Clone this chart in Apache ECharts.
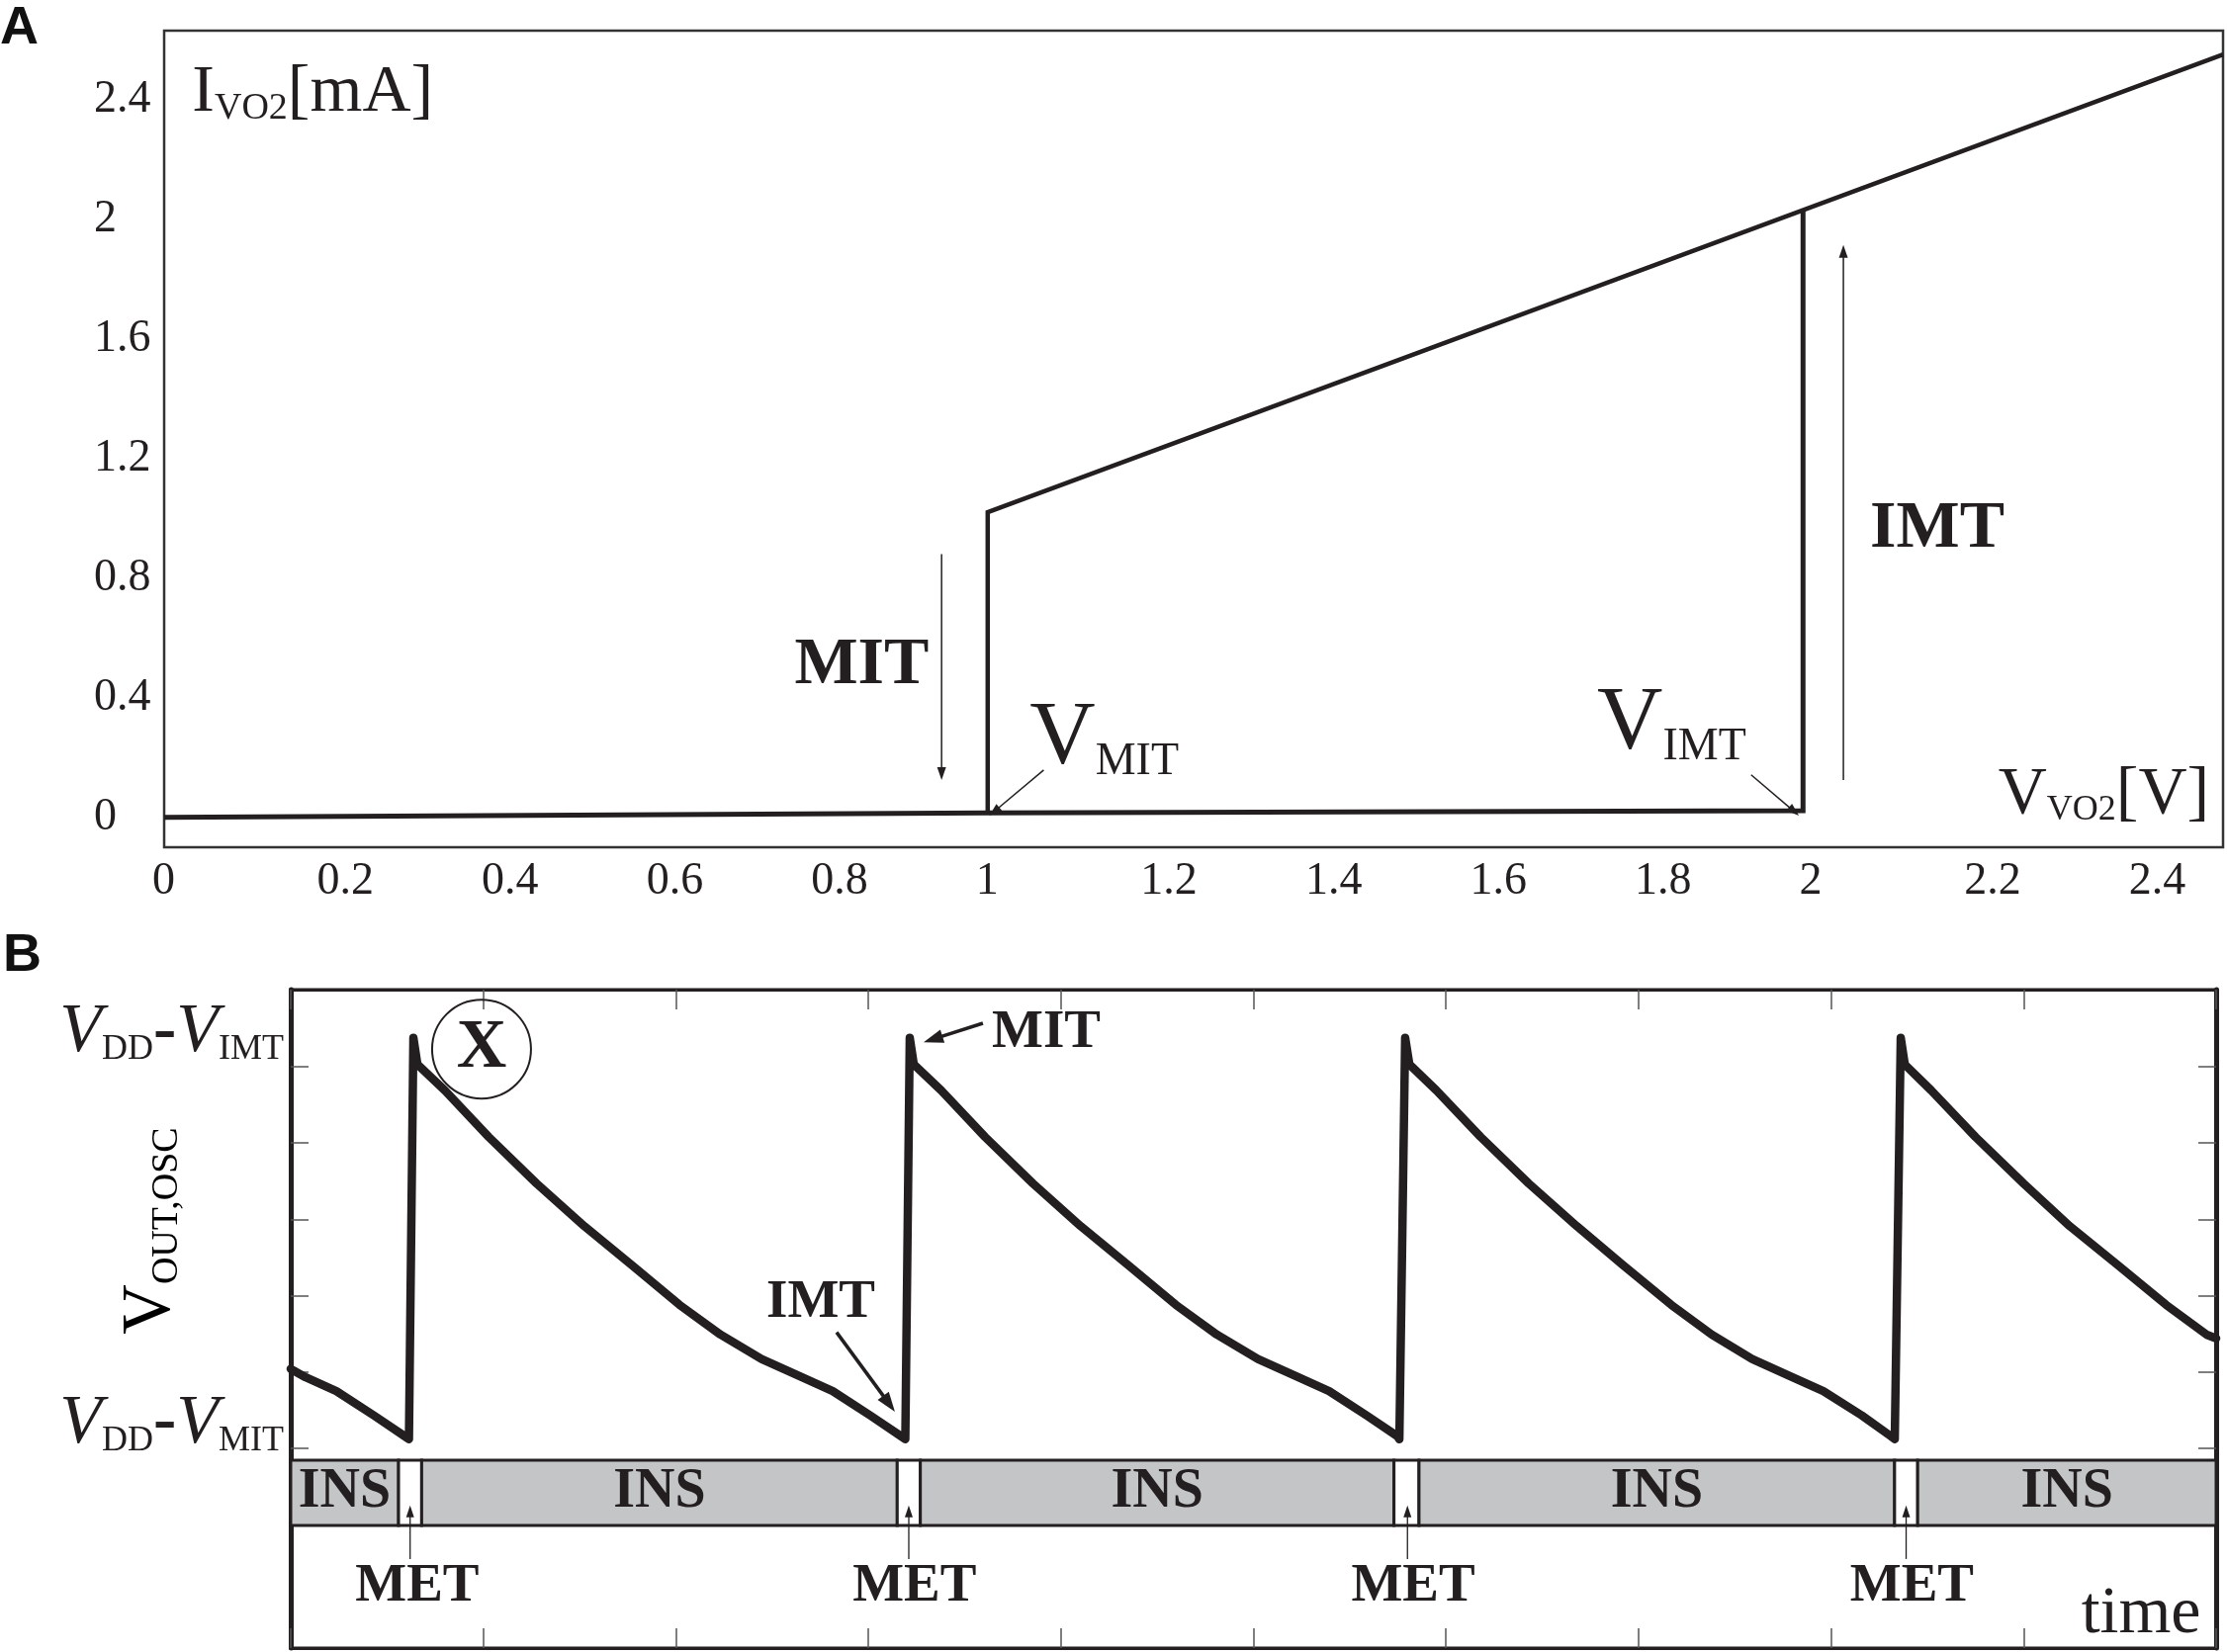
<!DOCTYPE html>
<html><head><meta charset="utf-8">
<script src="https://cdn.jsdelivr.net/npm/echarts@6/dist/echarts.min.js"></script>
<style>html,body{margin:0;padding:0;background:#fff}#c{width:2252px;height:1671px}</style>
</head><body><div id="c"></div>
<script>
const FONT = '"Liberation Serif","Times New Roman",serif';
const INK = '#231f20';
const GRAY = '#c4c5c7';

// ---------- Panel A data ----------
const aXTicks = [0, 0.2, 0.4, 0.6, 0.8, 1, 1.2, 1.4, 1.6, 1.8, 2, 2.2, 2.4];
const aYTicks = [0, 0.4, 0.8, 1.2, 1.6, 2, 2.4];
const aInsulating = [[0, 0], [1, 0.015], [1.99, 0.022], [1.99, 2.03]];
const aMetallic = [[1, 0.015], [1, 1.02], [2.5, 2.55]];
const aArrows = [[0.944, 0.88, 0.944, 0.125], [1.068, 0.158, 1.002, 0.006], [1.927, 0.142, 1.985, 0.006], [2.039, 0.125, 2.039, 1.914]];
const aNotePos = [[0.034, 2.42], [1.051, 0.261], [1.740, 0.310], [2.227, 0.076], [0.847, 0.508], [2.153, 0.964]];
const aNoteText = ['{m|I}{ms|VO2}{m|[mA]}', '{b|V}{bs1|MIT}', '{b|V}{bs2|IMT}', '{m|V}{cs|VO2}{m|[V]}', '{bold|MIT}', '{bold|IMT}'];

// ---------- Panel B data ----------
const bYTicks = [0, 1, 2, 3, 4, 5];
const bYLabelAt = [0.32, 5.44];
const bWave = [
  [0, 1.04], [0.078, 0.93], [0.237, 0.75], [0.432, 0.43], [0.591, 0.16], [0.614, 0.12],
  [0.637, 5.38], [0.658, 5.03], [0.80, 4.69], [1.028, 4.08], [1.277, 3.47], [1.525, 2.91], [1.772, 2.40], [2.019, 1.88], [2.232, 1.49], [2.445, 1.17], [2.656, 0.93], [2.815, 0.75], [3.01, 0.43], [3.169, 0.16], [3.192, 0.12],
  [3.215, 5.38], [3.236, 5.03], [3.378, 4.69], [3.606, 4.08], [3.855, 3.47], [4.103, 2.91], [4.35, 2.40], [4.597, 1.88], [4.81, 1.49], [5.023, 1.17], [5.234, 0.93], [5.393, 0.75], [5.588, 0.43], [5.747, 0.16], [5.758, 0.12],
  [5.788, 5.38], [5.81, 5.03], [5.95, 4.69], [6.18, 4.08], [6.43, 3.47], [6.68, 2.91], [6.92, 2.40], [7.17, 1.88], [7.38, 1.49], [7.59, 1.17], [7.80, 0.93], [7.96, 0.75], [8.16, 0.43], [8.31, 0.16], [8.331, 0.12],
  [8.362, 5.38], [8.383, 5.03], [8.52, 4.69], [8.75, 4.08], [9.0, 3.47], [9.24, 2.91], [9.49, 2.40], [9.74, 1.88], [9.95, 1.49], [10, 1.44]
];
const bSegStart = [0, 0.56, 0.68, 3.15, 3.27, 5.73, 5.86, 8.33, 8.45];
const bSegEnd = [0.56, 0.68, 3.15, 3.27, 5.73, 5.86, 8.33, 8.45, 10];
const bSegState = ['INS', 'MET', 'INS', 'MET', 'INS', 'MET', 'INS', 'MET', 'INS'];
const bMetArrowX = [0.62, 3.21, 5.80, 8.39];
const bMetLabelX = [0.657, 3.24, 5.83, 8.42];
const bTransArrows = [[3.595, 5.57, 3.287, 5.32], [2.835, 1.52, 3.138, 0.48]];
const bTransLabels = [[3.924, 5.44, 'MIT'], [2.753, 1.90, 'IMT']];
const bCircle = [0.991, 5.23, 'X'];
const bTimeLabel = [9.61, -2.18, 'time'];

// layout constants (data units of panel B)
const BAR_TOP = -0.155, BAR_BOT = -1.01;
const MET_ARROW_FROM = -1.45, MET_ARROW_TO = -0.75, MET_LABEL_Y = -1.81;

function rt(size, lh, extra) {
  return Object.assign({ fontFamily: FONT, fontSize: size, lineHeight: lh, verticalAlign: 'bottom', color: INK }, extra || {});
}

function arrowSeries(data, xi, yi, lw, hl, hw) {
  return {
    type: 'custom', xAxisIndex: xi, yAxisIndex: yi, silent: true, clip: false,
    data: data, encode: { x: [0, 2], y: [1, 3] },
    renderItem: function (params, api) {
      const p1 = api.coord([api.value(0), api.value(1)]);
      const p2 = api.coord([api.value(2), api.value(3)]);
      const dx = p2[0] - p1[0], dy = p2[1] - p1[1];
      const len = Math.sqrt(dx * dx + dy * dy);
      const ux = dx / len, uy = dy / len;
      const bx = p2[0] - ux * hl, by = p2[1] - uy * hl;
      return {
        type: 'group', children: [
          { type: 'line', shape: { x1: p1[0], y1: p1[1], x2: bx + ux * 1, y2: by + uy * 1 }, style: { stroke: INK, lineWidth: lw } },
          { type: 'polygon', shape: { points: [[p2[0], p2[1]], [bx + uy * hw, by - ux * hw], [bx - uy * hw, by + ux * hw]] }, style: { fill: INK } }
        ]
      };
    }
  };
}

const aRich = {
  m: rt(68, 68), ms: rt(38, 24),
  b: rt(92, 92), bs1: rt(46, 30), bs2: rt(46, 26),
  cs: rt(36, 21),
  bold: rt(68, 68, { fontWeight: 'bold', verticalAlign: 'middle' })
};

const aNotes = aNotePos.map(function (p, i) {
  const centered = aNoteText[i].indexOf('{bold|') === 0;
  return { value: p, label: { formatter: aNoteText[i], align: centered ? 'center' : 'left' } };
});

const bRich = {
  v: rt(70, 70, { fontStyle: 'italic' }),
  s: rt(36, 21),
  d: rt(70, 70, { fontWeight: 'bold' })
};

const hidden = { color: 'rgba(0,0,0,0)', opacity: 1 };

const chart = echarts.init(document.getElementById('c'), null, { renderer: 'canvas' });

const option = {
  animation: false,
  backgroundColor: '#fff',
  graphic: [
    { type: 'text', x: 0, y: 29, style: { text: 'A', font: 'bold 54px "Liberation Sans", Arial, sans-serif', fill: '#111', align: 'left', verticalAlign: 'middle' } },
    { type: 'text', x: 3, y: 967, style: { text: 'B', font: 'bold 54px "Liberation Sans", Arial, sans-serif', fill: '#111', align: 'left', verticalAlign: 'middle' } },
    { type: 'text', x: 153, y: 1245, rotation: Math.PI / 2,
      style: { text: '{v|V}{s|OUT,OSC}', align: 'center', verticalAlign: 'middle',
        rich: { v: rt(70, 70), s: rt(38, 17) } } }
  ],
  grid: [
    { left: 166, right: 4, top: 31, bottom: 814, show: true, borderColor: '#333', borderWidth: 2.5, backgroundColor: 'transparent', containLabel: false },
    { left: 294, right: 11, top: 1001, bottom: 4, show: true, borderColor: INK, borderWidth: 3, backgroundColor: 'transparent', containLabel: false }
  ],
  xAxis: [
    { gridIndex: 0, type: 'value', min: 0, max: 2.5,
      axisLine: { show: false, onZero: false }, axisTick: { show: false }, splitLine: { show: false },
      axisLabel: { customValues: aXTicks, formatter: function (v) { return String(v); }, fontFamily: FONT, fontSize: 46, lineHeight: 46, color: INK, margin: 12, align: 'left', padding: [0, 0, 0, -12] } },
    { gridIndex: 1, type: 'value', min: 0, max: 10, interval: 1,
      axisLine: { show: true, onZero: false, lineStyle: { color: INK, width: 3 } },
      axisTick: { show: true, inside: true, length: 20, lineStyle: { color: '#555', width: 1.5 } },
      axisLabel: { show: false }, splitLine: { show: false } },
    { gridIndex: 1, type: 'value', position: 'top', min: 0, max: 10, interval: 1,
      axisLine: { show: true, onZero: false, lineStyle: { color: INK, width: 3 } },
      axisTick: { show: true, inside: true, length: 20, lineStyle: { color: '#555', width: 1.5 } },
      axisLabel: { show: false }, splitLine: { show: false } }
  ],
  yAxis: [
    { gridIndex: 0, type: 'value', min: -0.1, max: 2.63,
      axisLine: { show: false, onZero: false }, axisTick: { show: false }, splitLine: { show: false },
      axisLabel: { customValues: aYTicks, formatter: function (v) { return String(v); }, fontFamily: FONT, fontSize: 46, color: INK, margin: 71, align: 'left' } },
    { gridIndex: 1, type: 'value', min: -2.617, max: 6.01,
      axisLine: { show: true, onZero: false, lineStyle: { color: INK, width: 5 } },
      axisTick: { show: true, inside: true, length: 18, customValues: bYTicks, lineStyle: { color: '#555', width: 1.5 } },
      axisLabel: { show: true, customValues: bYLabelAt, margin: 7,
        formatter: function (v) { return v > 3 ? '{v|V}{s|DD}{d|-}{v|V}{s|IMT}' : '{v|V}{s|DD}{d|-}{v|V}{s|MIT}'; },
        rich: bRich },
      splitLine: { show: false } },
    { gridIndex: 1, type: 'value', position: 'right', min: -2.617, max: 6.01,
      axisLine: { show: true, onZero: false, lineStyle: { color: INK, width: 5 } },
      axisTick: { show: true, inside: true, length: 18, customValues: bYTicks, lineStyle: { color: '#555', width: 1.5 } },
      axisLabel: { show: false }, splitLine: { show: false } }
  ],
  series: [
    // Panel A curves
    { type: 'line', xAxisIndex: 0, yAxisIndex: 0, data: aInsulating, showSymbol: false, silent: true,
      lineStyle: { color: INK, width: 5, join: 'miter', cap: 'butt' } },
    { type: 'line', xAxisIndex: 0, yAxisIndex: 0, data: aMetallic, showSymbol: false, silent: true,
      lineStyle: { color: INK, width: 4.5, join: 'miter', cap: 'butt' } },
    arrowSeries(aArrows, 0, 0, 1.5, 13, 4.5),
    { type: 'scatter', xAxisIndex: 0, yAxisIndex: 0, data: aNotes, symbolSize: 1, silent: true,
      itemStyle: hidden,
      label: { show: true, position: 'inside', verticalAlign: 'middle', color: INK, opacity: 1, rich: aRich } },

    // Panel B state bar
    { type: 'custom', xAxisIndex: 1, yAxisIndex: 1, silent: true, clip: false,
      data: bSegStart.map(function (s, i) { return [s, bSegEnd[i]]; }),
      encode: { x: [0, 1] },
      renderItem: function (params, api) {
        const p0 = api.coord([api.value(0), BAR_TOP]);
        const p1 = api.coord([api.value(1), BAR_BOT]);
        const st = bSegState[params.dataIndex];
        const children = [{ type: 'rect', shape: { x: p0[0], y: p0[1], width: p1[0] - p0[0], height: p1[1] - p0[1] },
          style: { fill: st === 'INS' ? GRAY : '#fff', stroke: INK, lineWidth: 3 } }];
        if (st === 'INS') {
          children.push({ type: 'text', style: { text: st, x: (p0[0] + p1[0]) / 2, y: (p0[1] + p1[1]) / 2,
            align: 'center', verticalAlign: 'middle', textAlign: 'center', textVerticalAlign: 'middle',
            font: 'bold 56px ' + FONT, fill: INK } });
        }
        return { type: 'group', children: children };
      } },
    // Panel B waveform
    { type: 'line', xAxisIndex: 1, yAxisIndex: 1, data: bWave, showSymbol: false, silent: true,
      lineStyle: { color: INK, width: 8.5, join: 'round', cap: 'round' } },
    arrowSeries(bTransArrows, 1, 1, 3.5, 20, 7),
    arrowSeries(bMetArrowX.map(function (x) { return [x, MET_ARROW_FROM, x, MET_ARROW_TO]; }), 1, 1, 1.3, 12, 4),
    // Panel B texts
    { type: 'scatter', xAxisIndex: 1, yAxisIndex: 1, silent: true, clip: false, symbolSize: 1,
      itemStyle: hidden,
      data: bTransLabels.map(function (t) { return { value: [t[0], t[1]], name: t[2] }; })
        .concat(bMetLabelX.map(function (x) { return { value: [x, MET_LABEL_Y], name: 'MET' }; })),
      label: { show: true, position: 'inside', formatter: '{b}', color: INK, opacity: 1, fontFamily: FONT, fontWeight: 'bold', fontSize: 55 } },
    { type: 'scatter', xAxisIndex: 1, yAxisIndex: 1, silent: true, clip: false, symbolSize: 1,
      itemStyle: hidden,
      data: [{ value: [bTimeLabel[0], bTimeLabel[1]], name: bTimeLabel[2] }],
      label: { show: true, position: 'inside', formatter: '{b}', color: INK, opacity: 1, fontFamily: FONT, fontSize: 68 } },
    { type: 'scatter', xAxisIndex: 1, yAxisIndex: 1, silent: true, symbol: 'circle', symbolSize: 100,
      itemStyle: { color: 'rgba(255,255,255,0)', opacity: 1, borderColor: INK, borderWidth: 2 },
      data: [{ value: [bCircle[0], bCircle[1]], name: bCircle[2] }],
      label: { show: true, position: 'inside', formatter: '{b}', color: INK, opacity: 1, fontFamily: FONT, fontWeight: 'bold', fontSize: 70 } }
  ]
};
chart.setOption(option);
</script>
</body></html>
